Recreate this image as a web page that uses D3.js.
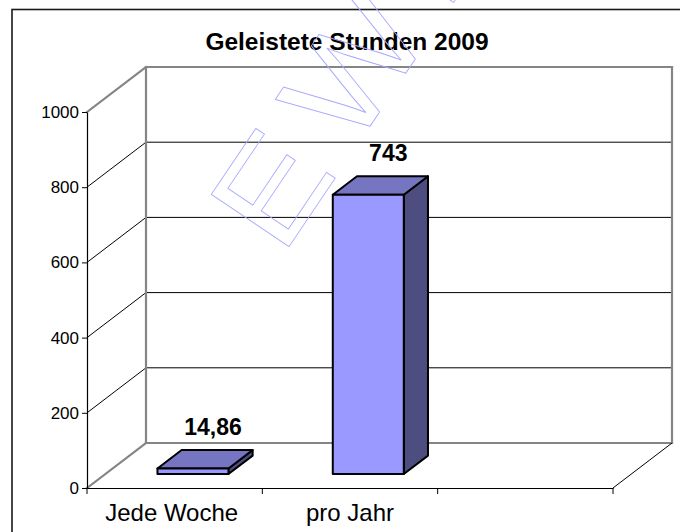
<!DOCTYPE html>
<html>
<head>
<meta charset="utf-8">
<script src="https://cdn.jsdelivr.net/npm/d3@7"></script>
<style>
  html, body { margin: 0; padding: 0; background: #fff; }
  svg { display: block; }
  text { font-family: "Liberation Sans", Arial, Helvetica, sans-serif; }
</style>
</head>
<body>
<script>
// ---- data ----
const title = "Geleistete Stunden 2009";
const categories = ["Jede Woche", "pro Jahr", ""];
const values = [14.86, 743, null];
const valueLabels = ["14,86", "743", ""];
const yTicks = [0, 200, 400, 600, 800, 1000];
const watermark = "EWE";

// ---- layout ----
const W = 680, H = 532;
const DX = 59, DY = -45;          // 3D depth offset
const f0 = 0.31, f1 = 0.72;       // bar depth (front/back fraction)

const svg = d3.select("body").append("svg").attr("width", W).attr("height", H);
svg.append("rect").attr("width", W).attr("height", H).attr("fill", "#fff");

// outer frame
svg.append("rect").attr("x", 12).attr("y", 9.5).attr("width", 720).attr("height", 600)
  .attr("fill", "none").attr("stroke", "#1a1a1a").attr("stroke-width", 1.6);

const x = d3.scaleBand().domain(categories).range([87, 613]);
const y = d3.scaleLinear().domain([0, 1000]).range([488, 112]);

const xL = x.range()[0], xR = x.range()[1];
const g = svg.append("g");

// gridlines (thin black) on back wall and left wall
yTicks.filter(t => t > 0 && t < 1000).forEach(t => {
  g.append("line").attr("x1", xL + DX).attr("x2", xR + DX)
    .attr("y1", y(t) + DY).attr("y2", y(t) + DY)
    .attr("stroke", "#000").attr("stroke-width", 1);
  g.append("line").attr("x1", xL).attr("y1", y(t))
    .attr("x2", xL + DX).attr("y2", y(t) + DY)
    .attr("stroke", "#000").attr("stroke-width", 1);
});

// wall edges (gray)
const gray = "#858585";
const yTop = y(1000), yBot = y(0);
const wall = [
  [[xL + DX, yTop + DY], [xR + DX, yTop + DY]],
  [[xL + DX, yBot + DY], [xR + DX, yBot + DY]],
  [[xL + DX, yTop + DY], [xL + DX, yBot + DY]],
  [[xR + DX, yTop + DY], [xR + DX, yBot + DY]],
  [[xL, yTop], [xL + DX, yTop + DY]],
  [[xL, yBot], [xL + DX, yBot + DY]]
];
wall.forEach(([a, b]) => {
  g.append("line").attr("x1", a[0]).attr("y1", a[1]).attr("x2", b[0]).attr("y2", b[1])
    .attr("stroke", gray).attr("stroke-width", 2.2).attr("stroke-linecap", "square");
});
// floor right edge
g.append("line").attr("x1", xR).attr("y1", yBot).attr("x2", xR + DX).attr("y2", yBot + DY)
  .attr("stroke", "#000").attr("stroke-width", 1);

// bars
const bw = x.bandwidth() * 0.405;
const d = DX * (f1 - f0), e = DY * (f1 - f0);
const bars = g.append("g");
categories.forEach((c, i) => {
  const v = values[i];
  if (v == null) return;
  const x0 = x(c) + (x.bandwidth() - bw) / 2 + DX * f0;
  const yb = y(0) + DY * f0;
  const yt = y(v) + DY * f0;
  const bg = bars.append("g").attr("stroke", "#000").attr("stroke-width", 2).attr("stroke-linejoin", "round");
  bg.append("path").attr("fill", "#4d4d80")
    .attr("d", `M${x0 + bw},${yt}L${x0 + bw + d},${yt + e}L${x0 + bw + d},${yb + e}L${x0 + bw},${yb}Z`);
  bg.append("path").attr("fill", "#7575c2")
    .attr("d", `M${x0},${yt}L${x0 + d},${yt + e}L${x0 + bw + d},${yt + e}L${x0 + bw},${yt}Z`);
  bg.append("rect").attr("fill", "#9999ff").attr("x", x0).attr("y", yt)
    .attr("width", bw).attr("height", yb - yt);
  // value label
  svg.append("text").attr("x", x0 + bw / 2 + 20).attr("y", yt + e - 15)
    .attr("text-anchor", "middle").attr("font-size", 23).attr("font-weight", "bold")
    .attr("fill", "#000").text(valueLabels[i]);
});

// y axis
const yAxis = d3.axisLeft(y).tickValues(yTicks).tickSize(5).tickSizeOuter(0).tickPadding(3)
  .tickFormat(d3.format("d"));
const ya = svg.append("g").attr("transform", `translate(${xL},0)`).call(yAxis);
ya.select(".domain").attr("stroke", "#000").attr("stroke-width", 1.2);
ya.selectAll(".tick line").attr("stroke", "#000");
ya.selectAll("text").attr("font-size", 17).attr("fill", "#000")
  .style("font-family", "'Liberation Sans', Arial, sans-serif");

// x axis
const xAxis = d3.axisBottom(x).tickSize(0).tickSizeOuter(0).tickPadding(0);
const xa = svg.append("g").attr("transform", `translate(0,${yBot})`).call(xAxis);
xa.select(".domain").attr("stroke", "#000").attr("stroke-width", 1.2);
xa.selectAll("text").attr("font-size", 24).attr("fill", "#000").attr("dy", null).attr("y", 33)
  .attr("dx", (dd, i) => i === 0 ? -3 : 0)
  .style("font-family", "'Liberation Sans', Arial, sans-serif");
// category boundary ticks
const bounds = categories.map(c => x(c)).concat([xR]);
xa.selectAll(".bt").data(bounds).enter().append("line").attr("class", "bt")
  .attr("x1", d => d).attr("x2", d => d).attr("y1", 0).attr("y2", 6)
  .attr("stroke", "#000").attr("stroke-width", 1);

// title
svg.append("text").attr("x", 347).attr("y", 50).attr("text-anchor", "middle")
  .attr("font-size", 24.5).attr("font-weight", "bold").attr("fill", "#000").text(title);

// watermark (outlined)
svg.append("text").attr("transform", "translate(282,257) rotate(-56) scale(1.12,1)")
  .attr("font-size", 136).attr("letter-spacing", 22)
  .attr("fill", "none").attr("stroke", "#a9a9ff").attr("stroke-width", 0.85)
  .text(watermark);
</script>
</body>
</html>
